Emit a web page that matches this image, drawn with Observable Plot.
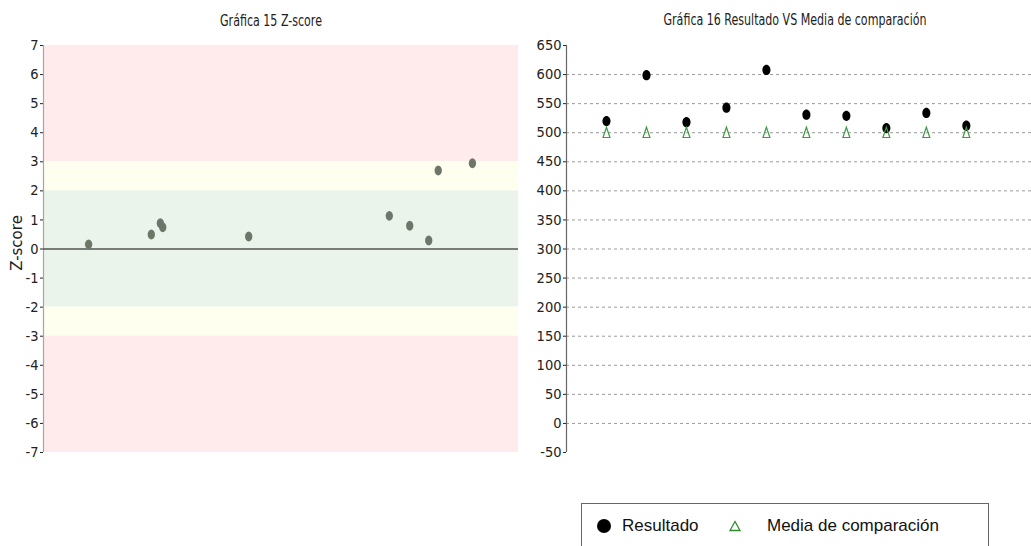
<!DOCTYPE html>
<html>
<head>
<meta charset="utf-8">
<script src="https://cdn.jsdelivr.net/npm/d3@7"></script>
<script src="https://cdn.jsdelivr.net/npm/@observablehq/plot@0.6"></script>
<style>
  html, body { margin: 0; padding: 0; background: #fff; }
  body { position: relative; width: 1031px; height: 546px; overflow: hidden; }
  .narrow { font-family: "Liberation Sans Narrow", "DejaVu Sans Condensed", sans-serif; }
  .title { position: absolute; font-size: 15px; line-height: 15px; color: #222; white-space: nowrap; transform: translateX(-50%) scaleX(0.82); }
  .ylab { position: absolute; font-family: "DejaVu Sans", sans-serif; font-size: 15px; line-height: 15px; color: #222; white-space: nowrap; transform: translate(-50%, -50%) rotate(-90deg); }
  .chart { position: absolute; top: 0; }
  .legend { position: absolute; left: 581px; top: 503px; width: 406px; height: 60px; border: 1px solid #666; font-family: "Liberation Sans", Arial, sans-serif; font-size: 17px; color: #111; }
  .legend .item { position: absolute; top: 12px; display: flex; align-items: center; height: 20px; white-space: nowrap; }
</style>
</head>
<body>
<div class="title narrow" id="t1" style="left:271px; top:14px;"></div>
<div class="title narrow" id="t2" style="left:795px; top:13px;"></div>
<div class="ylab" id="yl" style="left:17px; top:243px;"></div>
<div class="chart" id="c1" style="left:0px;"></div>
<div class="chart" id="c2" style="left:520px;"></div>
<div class="legend" id="legend"></div>
<script>
// ---------- Data ----------
const title1 = "Gráfica 15 Z-score";
const title2 = "Gráfica 16 Resultado VS Media de comparación";
const yLabel1 = "Z-score";

// Gráfica 15: z-scores (x = relative position along the unlabeled axis)
const zPos   = [9.5, 22.7, 24.6, 25.1, 43.2, 72.8, 77.1, 81.1, 83.1, 90.3];
const zScore = [0.16, 0.50, 0.89, 0.75, 0.43, 1.14, 0.80, 0.29, 2.70, 2.95];
const zTicks = [-7, -6, -5, -4, -3, -2, -1, 0, 1, 2, 3, 4, 5, 6, 7];

// z-score zones
const zoneLow  = [3, 2, -2, -3, -7];
const zoneHigh = [7, 3, 2, -2, -3];
const zoneName = ["Insatisfactorio", "Cuestionable", "Satisfactorio", "Cuestionable", "Insatisfactorio"];

// Gráfica 16: results vs comparison mean
const ronda      = [1, 2, 3, 4, 5, 6, 7, 8, 9, 10];
const resultado  = [520, 599, 518, 543, 608, 531, 529, 508, 534, 512];
const mediaComp  = [500, 500, 500, 500, 500, 500, 500, 500, 500, 500];
const valTicks   = [-50, 0, 50, 100, 150, 200, 250, 300, 350, 400, 450, 500, 550, 600, 650];
const gridValues = [0, 50, 100, 150, 200, 250, 300, 350, 400, 450, 500, 550, 600];
const seriesNames = ["Resultado", "Media de comparación"];

// ---------- Helpers ----------
function ellipseSymbol(ax, ay) {
  return {
    draw(ctx, size) {
      const r = Math.sqrt(size / Math.PI);
      const rx = r * ax, ry = r * ay, k = 0.5523;
      ctx.moveTo(rx, 0);
      ctx.bezierCurveTo(rx, ry * k, rx * k, ry, 0, ry);
      ctx.bezierCurveTo(-rx * k, ry, -rx, ry * k, -rx, 0);
      ctx.bezierCurveTo(-rx, -ry * k, -rx * k, -ry, 0, -ry);
      ctx.bezierCurveTo(rx * k, -ry, rx, -ry * k, rx, 0);
      ctx.closePath();
    }
  };
}
const tallTriangle = {
  draw(ctx, size) {
    const r = Math.sqrt(size / Math.PI);
    ctx.moveTo(0, -1.15 * r);
    ctx.lineTo(0.72 * r, 1.0 * r);
    ctx.lineTo(-0.72 * r, 1.0 * r);
    ctx.closePath();
  }
};

const fontStack = '"Liberation Sans Narrow", "DejaVu Sans Condensed", sans-serif';

document.getElementById("t1").textContent = title1;
document.getElementById("t2").textContent = title2;
document.getElementById("yl").textContent = yLabel1;

// ---------- Chart 1 ----------
const zones = zoneLow.map((lo, i) => ({lo, hi: zoneHigh[i], zone: zoneName[i]}));
const zData = zPos.map((x, i) => ({x, z: zScore[i]}));

const chart1 = Plot.plot({
  width: 525,
  height: 470,
  marginLeft: 43,
  marginRight: 7,
  marginTop: 45,
  marginBottom: 18,
  style: {fontFamily: fontStack, fontSize: "14.5px", color: "#222", background: "transparent"},
  x: {domain: [0, 100], axis: null},
  y: {domain: [-7, 7], ticks: zTicks, tickFormat: d => String(d), tickSize: 3, tickPadding: 2, label: null},
  color: {domain: ["Insatisfactorio", "Cuestionable", "Satisfactorio"], range: ["#ffebeb", "#fffff0", "#eaf4eb"]},
  marks: [
    Plot.rect(zones, {y1: "lo", y2: "hi", fill: "zone"}),
    Plot.ruleX([0], {stroke: "#a9a3a3", strokeWidth: 1.2}),
    Plot.ruleY([0], {stroke: "#555", strokeWidth: 1.5}),
    Plot.dot(zData, {x: "x", y: "z", r: 4.3, symbol: ellipseSymbol(0.85, 1.15), fill: "#6c776a", stroke: "none"})
  ]
});
document.getElementById("c1").appendChild(chart1);

// ---------- Chart 2 ----------
const resData = ronda.map((x, i) => ({x, v: resultado[i]}));
const medData = ronda.map((x, i) => ({x, v: mediaComp[i]}));

const chart2 = Plot.plot({
  width: 511,
  height: 470,
  marginLeft: 46,
  marginRight: 0,
  marginTop: 45,
  marginBottom: 18,
  style: {fontFamily: fontStack, fontSize: "14.5px", color: "#222", background: "transparent"},
  x: {domain: [0, 11.63], axis: null},
  y: {domain: [-50, 650], ticks: valTicks, tickFormat: d => String(d), tickSize: 3, tickPadding: 2, label: null},
  marks: [
    Plot.ruleY(gridValues, {stroke: "#9a9a9a", strokeWidth: 1, strokeDasharray: "3,3"}),
    Plot.ruleX([0], {stroke: "#666", strokeWidth: 1.2}),
    Plot.dot(resData, {x: "x", y: "v", r: 4.6, symbol: ellipseSymbol(0.88, 1.12), fill: "#000", stroke: "none"}),
    Plot.dot(medData, {x: "x", y: "v", r: 4.8, symbol: tallTriangle, fill: "none", stroke: "#3f9a45", strokeWidth: 1.2})
  ]
});
document.getElementById("c2").appendChild(chart2);

// ---------- Legend ----------
const legend = document.getElementById("legend");
const item1 = document.createElement("div");
item1.className = "item";
item1.style.left = "14px";
item1.innerHTML = '<svg width="16" height="16" style="margin-right:10px"><circle cx="8" cy="8" r="7" fill="#000"/></svg>';
item1.appendChild(document.createTextNode(seriesNames[0]));
legend.appendChild(item1);

const item2 = document.createElement("div");
item2.className = "item";
item2.style.left = "146px";
item2.innerHTML = '<svg width="14" height="16" style="margin-right:25px"><path d="M7,3.5 L12,12.5 L2,12.5 Z" fill="none" stroke="#2e8b2e" stroke-width="1.3"/></svg>';
item2.appendChild(document.createTextNode(seriesNames[1]));
legend.appendChild(item2);
</script>
</body>
</html>
